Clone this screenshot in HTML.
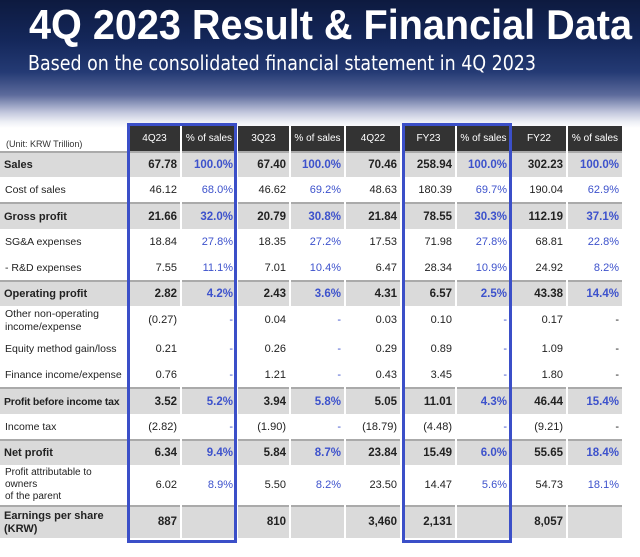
<!DOCTYPE html>
<html><head><meta charset="utf-8"><style>
body{margin:0;width:640px;height:557px;overflow:hidden;position:relative;font-family:"Liberation Sans",sans-serif;
background:linear-gradient(180deg,#0d1a3f 0px,#14275a 40px,#243a74 72px,#5d6b9c 95px,#c0c5dc 112px,#eef0f6 122px,#fff 128px,#fff 100%);}
svg.t{position:absolute;left:0;top:0}
table{position:absolute;left:0;top:126px;border-collapse:collapse;table-layout:fixed;width:622px;font-size:11px;color:#222}
td{padding:0 3px 0 0;text-align:right;border-left:2px solid #fff;white-space:nowrap;overflow:hidden}
td:first-child{text-align:left;border-left:none;padding-left:5px;font-size:10.5px}
tr.h td{background:#333;color:#fff;text-align:center;height:23px;font-size:10px;padding:0}
tr.h td:first-child{background:none;color:#333;text-align:left;vertical-align:bottom;font-size:9px;padding:0 0 2px 6px}
tr.g td{background:#dadada;font-weight:bold;border-top:2px solid #aaa;font-size:11.5px}
tr.g td:first-child{padding-left:4px;font-size:11px}
.p{color:#3d52cc}
tr.w td{background:#fff}
.box{position:absolute;border:3px solid #3b4fc8;top:123px;height:414px}
</style></head><body>
<svg class="t" width="640" height="80">
<text x="29" y="39" fill="#fff" font-family="Liberation Sans" font-weight="bold" font-size="42" textLength="603" lengthAdjust="spacingAndGlyphs">4Q 2023 Result &amp; Financial Data</text>
<text x="28" y="70" fill="#fff" font-family="DejaVu Sans" font-size="20" textLength="508" lengthAdjust="spacingAndGlyphs">Based on the consolidated financial statement in 4Q 2023</text>
</svg>
<table>
<colgroup><col style="width:128px"><col style="width:53px"><col style="width:56px"><col style="width:53px"><col style="width:55px"><col style="width:56px"><col style="width:55px"><col style="width:55px"><col style="width:56px"><col style="width:55px"></colgroup>
<tr class="h"><td>(Unit: KRW Trillion)</td><td>4Q23</td><td>% of sales</td><td>3Q23</td><td>% of sales</td><td>4Q22</td><td>FY23</td><td>% of sales</td><td>FY22</td><td>% of sales</td></tr>
<tr class="g" style="height:25px"><td>Sales</td><td>67.78</td><td class="p">100.0%</td><td>67.40</td><td class="p">100.0%</td><td>70.46</td><td>258.94</td><td class="p">100.0%</td><td>302.23</td><td class="p">100.0%</td></tr>
<tr class="w" style="height:26px"><td>Cost of sales</td><td>46.12</td><td class="p">68.0%</td><td>46.62</td><td class="p">69.2%</td><td>48.63</td><td>180.39</td><td class="p">69.7%</td><td>190.04</td><td class="p">62.9%</td></tr>
<tr class="g" style="height:26px"><td>Gross profit</td><td>21.66</td><td class="p">32.0%</td><td>20.79</td><td class="p">30.8%</td><td>21.84</td><td>78.55</td><td class="p">30.3%</td><td>112.19</td><td class="p">37.1%</td></tr>
<tr class="w" style="height:26px"><td>SG&amp;A expenses</td><td>18.84</td><td class="p">27.8%</td><td>18.35</td><td class="p">27.2%</td><td>17.53</td><td>71.98</td><td class="p">27.8%</td><td>68.81</td><td class="p">22.8%</td></tr>
<tr class="w" style="height:26px"><td>- R&amp;D expenses</td><td>7.55</td><td class="p">11.1%</td><td>7.01</td><td class="p">10.4%</td><td>6.47</td><td>28.34</td><td class="p">10.9%</td><td>24.92</td><td class="p">8.2%</td></tr>
<tr class="g" style="height:25px"><td>Operating profit</td><td>2.82</td><td class="p">4.2%</td><td>2.43</td><td class="p">3.6%</td><td>4.31</td><td>6.57</td><td class="p">2.5%</td><td>43.38</td><td class="p">14.4%</td></tr>
<tr class="w" style="height:29px;line-height:13px"><td>Other non-operating<br>income/expense</td><td>(0.27)</td><td class="p">-</td><td>0.04</td><td class="p">-</td><td>0.03</td><td>0.10</td><td class="p">-</td><td>0.17</td><td>-</td></tr>
<tr class="w" style="height:27px"><td>Equity method gain/loss</td><td>0.21</td><td class="p">-</td><td>0.26</td><td class="p">-</td><td>0.29</td><td>0.89</td><td class="p">-</td><td>1.09</td><td>-</td></tr>
<tr class="w" style="height:26px"><td>Finance income/expense</td><td>0.76</td><td class="p">-</td><td>1.21</td><td class="p">-</td><td>0.43</td><td>3.45</td><td class="p">-</td><td>1.80</td><td>-</td></tr>
<tr class="g" style="height:26px"><td style="font-size:10.5px;letter-spacing:-0.2px">Profit before income tax</td><td>3.52</td><td class="p">5.2%</td><td>3.94</td><td class="p">5.8%</td><td>5.05</td><td>11.01</td><td class="p">4.3%</td><td>46.44</td><td class="p">15.4%</td></tr>
<tr class="w" style="height:26px"><td>Income tax</td><td>(2.82)</td><td class="p">-</td><td>(1.90)</td><td class="p">-</td><td>(18.79)</td><td>(4.48)</td><td class="p">-</td><td>(9.21)</td><td>-</td></tr>
<tr class="g" style="height:25px"><td>Net profit</td><td>6.34</td><td class="p">9.4%</td><td>5.84</td><td class="p">8.7%</td><td>23.84</td><td>15.49</td><td class="p">6.0%</td><td>55.65</td><td class="p">18.4%</td></tr>
<tr class="w" style="height:41px;line-height:12px"><td style="font-size:10px">Profit attributable to<br>owners<br>of the parent</td><td>6.02</td><td class="p">8.9%</td><td>5.50</td><td class="p">8.2%</td><td>23.50</td><td>14.47</td><td class="p">5.6%</td><td>54.73</td><td class="p">18.1%</td></tr>
<tr class="g" style="height:32px;line-height:13px"><td>Earnings per share<br>(KRW)</td><td>887</td><td></td><td>810</td><td></td><td>3,460</td><td>2,131</td><td></td><td>8,057</td><td></td></tr>
</table>
<div class="box" style="left:127px;width:104px"></div>
<div class="box" style="left:402px;width:104px"></div>
</body></html>
